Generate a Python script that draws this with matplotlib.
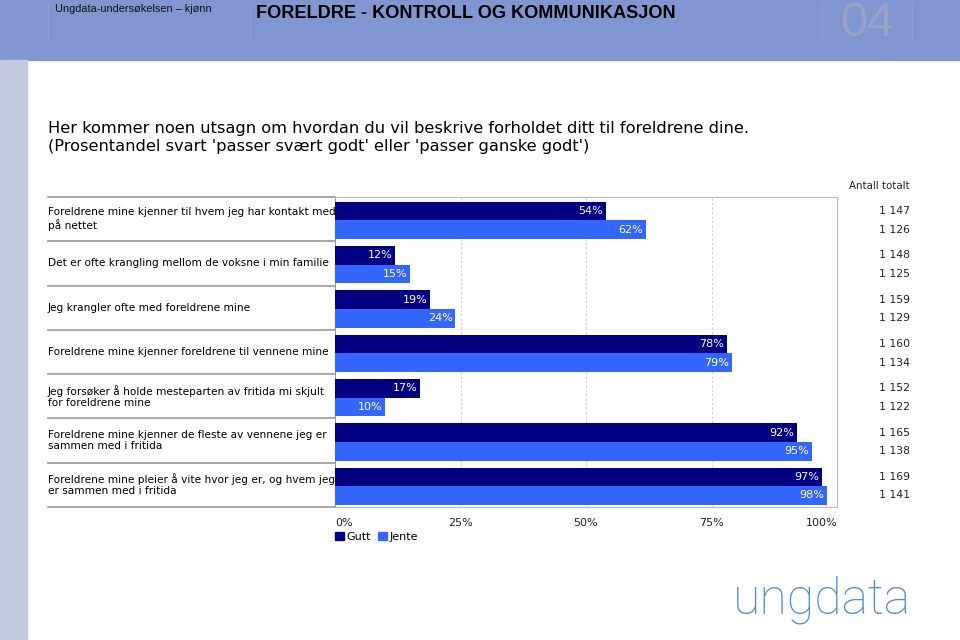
import numpy as np
import matplotlib
matplotlib.use("Agg")
import matplotlib.pyplot as plt
import matplotlib.transforms as mtransforms
from matplotlib.patches import Rectangle, Patch

# data
categories = [
    "Foreldrene mine kjenner til hvem jeg har kontakt med\npå nettet",
    "Det er ofte krangling mellom de voksne i min familie",
    "Jeg krangler ofte med foreldrene mine",
    "Foreldrene mine kjenner foreldrene til vennene mine",
    "Jeg forsøker å holde mesteparten av fritida mi skjult\nfor foreldrene mine",
    "Foreldrene mine kjenner de fleste av vennene jeg er\nsammen med i fritida",
    "Foreldrene mine pleier å vite hvor jeg er, og hvem jeg\ner sammen med i fritida",
]
gutt = [54, 12, 19, 78, 17, 92, 97]
jente = [62, 15, 24, 79, 10, 95, 98]
n_gutt = ["1 147", "1 148", "1 159", "1 160", "1 152", "1 165", "1 169"]
n_jente = ["1 126", "1 125", "1 129", "1 134", "1 122", "1 138", "1 141"]
ticks = [0, 25, 50, 75, 100]
tick_labels = ["0%", "25%", "50%", "75%", "100%"]
series_names = ["Gutt", "Jente"]

C_GUTT = "#000080"
C_JENTE = "#3366FF"
W, H = 960, 640

fig = plt.figure(figsize=(9.6, 6.4), dpi=100)
fig.patch.set_facecolor("white")

def px(x, y):
    # pixel coords (top-left origin) -> figure fraction
    return x / W, 1 - y / H

# header band and left strip
fig.add_artist(Rectangle((0, 1 - 60 / H), 1, 60 / H, transform=fig.transFigure,
                         color="#8196D1", zorder=0))
fig.add_artist(Rectangle((0, 0), 27 / W, 1 - 60 / H, transform=fig.transFigure,
                         color="#C1CADF", zorder=0))
for xs in [48, 250, 822, 912]:
    fig.add_artist(plt.Line2D([xs / W, xs / W], [1 - 2 / H, 1 - 40 / H], transform=fig.transFigure,
                              color="#8A9DD4", lw=0.8))

fig.text(*px(55, 9), "Ungdata-undersøkelsen – kjønn", fontsize=7.9, family="Liberation Sans",
         va="center", ha="left", color="#111111")
fig.text(*px(256, 13), "FORELDRE - KONTROLL OG KOMMUNIKASJON", fontsize=13.1, weight="bold",
         family="Liberation Sans", va="center", ha="left", color="black")
fig.text(*px(867, 24), "04", fontsize=35, family="Liberation Sans", va="center", ha="center",
         color="#97A2C6")

# title
fig.text(*px(48, 128), "Her kommer noen utsagn om hvordan du vil beskrive forholdet ditt til foreldrene dine.",
         fontsize=11.7, va="center", ha="left", color="black")
fig.text(*px(48, 147), "(Prosentandel svart 'passer svært godt' eller 'passer ganske godt')",
         fontsize=11.7, va="center", ha="left", color="black")

# plot area
ax_l, ax_r, ax_t, ax_b = 335, 837, 197, 507
ax = fig.add_axes([ax_l / W, 1 - ax_b / H, (ax_r - ax_l) / W, (ax_b - ax_t) / H])
n = len(categories)
y = np.arange(n)
bh = 0.42
b1 = ax.barh(y + 0.32, gutt, height=bh, color=C_GUTT, zorder=3)
b2 = ax.barh(y + 0.74, jente, height=bh, color=C_JENTE, zorder=3)
ax.set_xlim(0, 100)
ax.set_ylim(n, 0)
ax.set_yticks([])
ax.set_xticks(ticks)
ax.set_xticklabels(tick_labels, fontsize=8, color="#222222")
for lab, ha in zip(ax.get_xticklabels(), ["left", "center", "center", "center", "right"]):
    lab.set_ha(ha)
ax.tick_params(axis="x", length=0, pad=8)
for t in ticks[1:-1]:
    ax.axvline(t, color="#D0D0D0", lw=0.8, ls=(0, (2, 2)), zorder=1)
for s in ["top", "right", "bottom"]:
    ax.spines[s].set_color("#BBBBBB")
ax.spines["left"].set_color("#999999")

for bars, vals in [(b1, gutt), (b2, jente)]:
    for rect, v in zip(bars, vals):
        ax.annotate(f"{v}%", (v, rect.get_y() + rect.get_height() / 2), xytext=(-2, 0),
                    textcoords="offset points", ha="right", va="center", fontsize=8,
                    color="white", zorder=4)

# category labels and separator lines on the left
trans = mtransforms.blended_transform_factory(fig.transFigure, ax.transData)
for i in range(n + 1):
    ax.plot([48 / W, ax_l / W], [i, i], transform=trans, color="#999999", lw=1.2, clip_on=False)
for i, lab in enumerate(categories):
    ax.text(48 / W, i + 0.5, lab, transform=trans, ha="left", va="center", fontsize=7.55,
            color="black", linespacing=1.15)

# counts column
for i in range(n):
    ax.text(910 / W, i + 0.32, n_gutt[i], transform=trans, ha="right", va="center", fontsize=7.8,
            color="#222222")
    ax.text(910 / W, i + 0.74, n_jente[i], transform=trans, ha="right", va="center", fontsize=7.8,
            color="#222222")
fig.text(*px(910, 186), "Antall totalt", ha="right", va="center", fontsize=7.4, color="#222222")

# legend
handles = [Patch(color=C_GUTT), Patch(color=C_JENTE)]
fig.legend(handles, series_names, loc="center left", bbox_to_anchor=px(335, 537), ncol=2,
           frameon=False, fontsize=8, handlelength=0.8, handleheight=0.8, handletextpad=0.25,
           columnspacing=0.6, borderaxespad=0, borderpad=0)

# logo
fig.text(*px(822, 600), "ungdata", fontsize=36, family="Roboto", weight="light",
         ha="center", va="center", color="#4F8CC4")

fig.savefig("out.png", dpi=100)
